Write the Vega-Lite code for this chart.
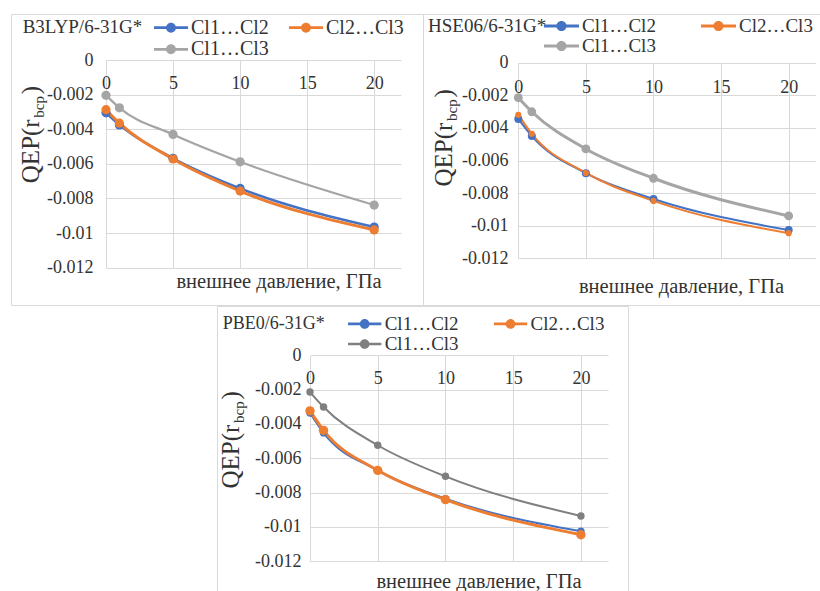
{
  "$schema": "https://vega.github.io/schema/vega-lite/v6.json",
  "padding": {"left": 10, "top": 13, "right": 0, "bottom": 0},
  "background": "white",
  "data": {
    "values": [
      {"m": "B3LYP", "s": "Cl1…Cl2", "p": 0, "q": -0.00305},
      {"m": "B3LYP", "s": "Cl1…Cl2", "p": 1, "q": -0.00375},
      {"m": "B3LYP", "s": "Cl1…Cl2", "p": 5, "q": -0.00568},
      {"m": "B3LYP", "s": "Cl1…Cl2", "p": 10, "q": -0.00742},
      {"m": "B3LYP", "s": "Cl1…Cl2", "p": 20, "q": -0.00965},
      {"m": "B3LYP", "s": "Cl2…Cl3", "p": 0, "q": -0.00287},
      {"m": "B3LYP", "s": "Cl2…Cl3", "p": 1, "q": -0.00365},
      {"m": "B3LYP", "s": "Cl2…Cl3", "p": 5, "q": -0.00572},
      {"m": "B3LYP", "s": "Cl2…Cl3", "p": 10, "q": -0.00757},
      {"m": "B3LYP", "s": "Cl2…Cl3", "p": 20, "q": -0.00982},
      {"m": "B3LYP", "s": "Cl1…Cl3", "p": 0, "q": -0.00204},
      {"m": "B3LYP", "s": "Cl1…Cl3", "p": 1, "q": -0.00276},
      {"m": "B3LYP", "s": "Cl1…Cl3", "p": 5, "q": -0.00430},
      {"m": "B3LYP", "s": "Cl1…Cl3", "p": 10, "q": -0.00588},
      {"m": "B3LYP", "s": "Cl1…Cl3", "p": 20, "q": -0.00838},
      {"m": "HSE06", "s": "Cl1…Cl2", "p": 0, "q": -0.00345},
      {"m": "HSE06", "s": "Cl1…Cl2", "p": 1, "q": -0.00450},
      {"m": "HSE06", "s": "Cl1…Cl2", "p": 5, "q": -0.00678},
      {"m": "HSE06", "s": "Cl1…Cl2", "p": 10, "q": -0.00836},
      {"m": "HSE06", "s": "Cl1…Cl2", "p": 20, "q": -0.01027},
      {"m": "HSE06", "s": "Cl2…Cl3", "p": 0, "q": -0.00320},
      {"m": "HSE06", "s": "Cl2…Cl3", "p": 1, "q": -0.00436},
      {"m": "HSE06", "s": "Cl2…Cl3", "p": 5, "q": -0.00676},
      {"m": "HSE06", "s": "Cl2…Cl3", "p": 10, "q": -0.00848},
      {"m": "HSE06", "s": "Cl2…Cl3", "p": 20, "q": -0.01046},
      {"m": "HSE06", "s": "Cl1…Cl3", "p": 0, "q": -0.00215},
      {"m": "HSE06", "s": "Cl1…Cl3", "p": 1, "q": -0.00301},
      {"m": "HSE06", "s": "Cl1…Cl3", "p": 5, "q": -0.00529},
      {"m": "HSE06", "s": "Cl1…Cl3", "p": 10, "q": -0.00709},
      {"m": "HSE06", "s": "Cl1…Cl3", "p": 20, "q": -0.00940},
      {"m": "PBE0", "s": "Cl1…Cl2", "p": 0, "q": -0.00336},
      {"m": "PBE0", "s": "Cl1…Cl2", "p": 1, "q": -0.00452},
      {"m": "PBE0", "s": "Cl1…Cl2", "p": 5, "q": -0.00670},
      {"m": "PBE0", "s": "Cl1…Cl2", "p": 10, "q": -0.00835},
      {"m": "PBE0", "s": "Cl1…Cl2", "p": 20, "q": -0.01025},
      {"m": "PBE0", "s": "Cl2…Cl3", "p": 0, "q": -0.00324},
      {"m": "PBE0", "s": "Cl2…Cl3", "p": 1, "q": -0.00437},
      {"m": "PBE0", "s": "Cl2…Cl3", "p": 5, "q": -0.00670},
      {"m": "PBE0", "s": "Cl2…Cl3", "p": 10, "q": -0.00841},
      {"m": "PBE0", "s": "Cl2…Cl3", "p": 20, "q": -0.01045},
      {"m": "PBE0", "s": "Cl1…Cl3", "p": 0, "q": -0.00214},
      {"m": "PBE0", "s": "Cl1…Cl3", "p": 1, "q": -0.00301},
      {"m": "PBE0", "s": "Cl1…Cl3", "p": 5, "q": -0.00524},
      {"m": "PBE0", "s": "Cl1…Cl3", "p": 10, "q": -0.00705},
      {"m": "PBE0", "s": "Cl1…Cl3", "p": 20, "q": -0.00936}
    ]
  },
  "spacing": -2,
  "resolve": {"scale": {"color": "independent"}, "legend": {"color": "independent"}},
  "vconcat": [
    {
      "spacing": 0,
      "bounds": "flush",
      "resolve": {"scale": {"color": "independent"}, "legend": {"color": "independent"}},
      "hconcat": [
        {
          "width": 412,
          "height": 291,
          "transform": [{"filter": "datum.m == 'B3LYP'"}],
          "title": {"text": "B3LYP/6-31G*", "dx": 11.7, "offset": -23.2, "fontSize": 19},
          "encoding": {
            "x": {
              "field": "p", "type": "quantitative",
              "scale": {"domain": [0, 22], "range": [95, 390], "nice": false, "zero": false},
              "axis": {"orient": "top", "offset": -46, "values": [0, 5, 10, 15, 20], "labelPadding": -14.7, "labelBaseline": "top",
                       "title": "внешнее давление, ГПа", "titleX": 267.5, "titleY": 227, "titleFontSize": 20.5}
            }
          },
          "layer": [
            {
              "mark": {"type": "line", "interpolate": "monotone"},
              "encoding": {
                "y": {
                  "field": "q", "type": "quantitative",
                  "scale": {"domain": [-0.012, 0], "range": [253.7, 46], "nice": false, "zero": false},
                  "axis": {"orient": "left", "offset": -95, "labelPadding": 13,
                           "values": [-0.012, -0.01, -0.008, -0.006, -0.004, -0.002, 0],
                           "labelExpr": "datum.value == 0 ? '0' : '-' + format(-datum.value, '')",
                           "title": "QEP(r\u00a0\u00a0\u00a0\u00a0)", "titleAngle": -90, "titleX": -67.7, "titleY": 168.7, "titleAlign": "left", "titleFontSize": 25}
                },
                "detail": {"field": "s", "type": "nominal"},
                "stroke": {"condition": [{"test": "datum.s == 'Cl1…Cl2'", "value": "#4472c4"}, {"test": "datum.s == 'Cl2…Cl3'", "value": "#ed7d31"}], "value": "#a5a5a5"},
                "strokeWidth": {"condition": [{"test": "datum.s == 'Cl1…Cl2'", "value": 2.5}, {"test": "datum.s == 'Cl2…Cl3'", "value": 3}], "value": 2.25}
              }
            },
            {
              "mark": {"type": "point", "filled": true, "opacity": 1, "size": 85},
              "encoding": {
                "y": {
                  "field": "q", "type": "quantitative",
                  "scale": {"domain": [-0.012, 0], "range": [253.7, 46], "nice": false, "zero": false},
                  "axis": {"orient": "right", "labels": false, "grid": false, "title": "bcp", "titleAngle": -90,
                           "titleX": -380, "titleY": 103.2, "titleAlign": "left", "titleFontSize": 15}
                },
                "color": {"field": "s", "type": "nominal",
                          "scale": {"domain": ["Cl1…Cl2", "Cl2…Cl3", "Cl1…Cl3"], "range": ["#4472c4", "#ed7d31", "#a5a5a5"]},
                          "legend": {"title": null, "legendX": 143, "legendY": 3.7, "columnPadding": 20, "rowPadding": 1.6, "clipHeight": 20,
                                     "labelFont": "Liberation Serif", "labelFontSize": 20, "symbolSize": 1156,
                                     "encode": {"labels": {"update": {"font": {"value": "Liberation Serif"}}}}}}
              }
            }
          ],
          "resolve": {"axis": {"y": "independent"}}
        },
        {
          "width": 397,
          "height": 291,
          "transform": [{"filter": "datum.m == 'HSE06'"}],
          "title": {"text": "HSE06/6-31G*", "dx": 5, "offset": -21.5, "fontSize": 19},
          "encoding": {
            "x": {
              "field": "p", "type": "quantitative",
              "scale": {"domain": [0, 22], "range": [95.3, 392.7], "nice": false, "zero": false},
              "axis": {"orient": "top", "offset": -48.7, "values": [0, 5, 10, 15, 20], "labelPadding": -15.3, "labelBaseline": "top",
                       "title": "внешнее давление, ГПа", "titleX": 258, "titleY": 229.8, "titleFontSize": 20.5}
            }
          },
          "layer": [
            {
              "mark": {"type": "line", "interpolate": "monotone"},
              "encoding": {
                "y": {
                  "field": "q", "type": "quantitative",
                  "scale": {"domain": [-0.012, 0], "range": [244.3, 48.7], "nice": false, "zero": false},
                  "axis": {"orient": "left", "offset": -95.3, "labelPadding": 10.3,
                           "values": [-0.012, -0.01, -0.008, -0.006, -0.004, -0.002, 0],
                           "labelExpr": "datum.value == 0 ? '0' : '-' + format(-datum.value, '')",
                           "title": "QEP(r\u00a0\u00a0\u00a0\u00a0)", "titleAngle": -90, "titleX": -67.3, "titleY": 172, "titleAlign": "left", "titleFontSize": 25}
                },
                "detail": {"field": "s", "type": "nominal"},
                "stroke": {"condition": [{"test": "datum.s == 'Cl1…Cl2'", "value": "#4472c4"}, {"test": "datum.s == 'Cl2…Cl3'", "value": "#ed7d31"}], "value": "#a5a5a5"},
                "strokeWidth": {"condition": [{"test": "datum.s == 'Cl1…Cl3'", "value": 3}], "value": 2}
              }
            },
            {
              "mark": {"type": "point", "filled": true, "opacity": 1},
              "encoding": {
                "y": {
                  "field": "q", "type": "quantitative",
                  "scale": {"domain": [-0.012, 0], "range": [244.3, 48.7], "nice": false, "zero": false},
                  "axis": {"orient": "right", "labels": false, "grid": false, "title": "bcp", "titleAngle": -90,
                           "titleX": -364, "titleY": 106.5, "titleAlign": "left", "titleFontSize": 15}
                },
                "color": {"field": "s", "type": "nominal",
                          "scale": {"domain": ["Cl1…Cl2", "Cl2…Cl3", "Cl1…Cl3"], "range": ["#4472c4", "#ed7d31", "#a5a5a5"]},
                          "legend": {"title": null, "legendX": 121, "legendY": 2, "columnPadding": 45, "rowPadding": 0, "clipHeight": 20,
                                     "labelFont": "Liberation Serif", "labelFontSize": 19, "symbolSize": 1225,
                                     "encode": {"labels": {"update": {"font": {"value": "Liberation Serif"}}}}}},
                "size": {"condition": [{"test": "datum.s == 'Cl1…Cl2'", "value": 64}, {"test": "datum.s == 'Cl2…Cl3'", "value": 38}], "value": 78}
              }
            }
          ],
          "resolve": {"axis": {"y": "independent"}}
        }
      ]
    },
    {
      "spacing": 0,
      "bounds": "flush",
      "resolve": {"scale": {"color": "independent"}, "legend": {"color": "independent"}},
      "hconcat": [
        {
          "width": 206,
          "height": 285,
          "data": {"values": []},
          "mark": "point",
          "encoding": {},
          "view": {"stroke": null}
        },
        {
          "width": 411,
          "height": 285,
          "transform": [{"filter": "datum.m == 'PBE0'"}],
          "title": {"text": "PBE0/6-31G*", "dx": 5.7, "offset": -26.7, "fontSize": 18},
          "encoding": {
            "x": {
              "field": "p", "type": "quantitative",
              "scale": {"domain": [0, 22], "range": [93, 391], "nice": false, "zero": false},
              "axis": {"orient": "top", "offset": -49.3, "values": [0, 5, 10, 15, 20], "labelPadding": -13.7, "labelBaseline": "top",
                       "title": "внешнее давление, ГПа", "titleX": 261.5, "titleY": 231.7, "titleFontSize": 20.5}
            }
          },
          "layer": [
            {
              "mark": {"type": "line", "interpolate": "monotone"},
              "encoding": {
                "y": {
                  "field": "q", "type": "quantitative",
                  "scale": {"domain": [-0.012, 0], "range": [255.3, 49.3], "nice": false, "zero": false},
                  "axis": {"orient": "left", "offset": -93, "labelPadding": 9,
                           "values": [-0.012, -0.01, -0.008, -0.006, -0.004, -0.002, 0],
                           "labelExpr": "datum.value == 0 ? '0' : '-' + format(-datum.value, '')",
                           "title": "QEP(r\u00a0\u00a0\u00a0\u00a0)", "titleAngle": -90, "titleX": -72, "titleY": 182, "titleAlign": "left", "titleFontSize": 25}
                },
                "detail": {"field": "s", "type": "nominal"},
                "stroke": {"condition": [{"test": "datum.s == 'Cl1…Cl2'", "value": "#4472c4"}, {"test": "datum.s == 'Cl2…Cl3'", "value": "#ed7d31"}], "value": "#7f7f7f"},
                "strokeWidth": {"condition": [{"test": "datum.s == 'Cl2…Cl3'", "value": 3}], "value": 2}
              }
            },
            {
              "mark": {"type": "point", "filled": true, "opacity": 1},
              "encoding": {
                "y": {
                  "field": "q", "type": "quantitative",
                  "scale": {"domain": [-0.012, 0], "range": [255.3, 49.3], "nice": false, "zero": false},
                  "axis": {"orient": "right", "labels": false, "grid": false, "title": "bcp", "titleAngle": -90,
                           "titleX": -385, "titleY": 116.5, "titleAlign": "left", "titleFontSize": 15}
                },
                "color": {"field": "s", "type": "nominal",
                          "scale": {"domain": ["Cl1…Cl2", "Cl2…Cl3", "Cl1…Cl3"], "range": ["#4472c4", "#ed7d31", "#7f7f7f"]},
                          "legend": {"title": null, "legendX": 130.7, "legendY": 8.2, "columnPadding": 34.8, "rowPadding": 0.3, "clipHeight": 19,
                                     "labelFont": "Liberation Serif", "labelFontSize": 19, "symbolSize": 1111,
                                     "encode": {"labels": {"update": {"font": {"value": "Liberation Serif"}}}}}},
                "size": {"condition": [{"test": "datum.s == 'Cl2…Cl3'", "value": 88}], "value": 55}
              }
            }
          ],
          "resolve": {"axis": {"y": "independent"}}
        }
      ]
    }
  ],
  "config": {
    "font": "Liberation Serif",
    "view": {"stroke": "#d9d9d9", "strokeWidth": 1},
    "title": {"anchor": "start", "frame": "group", "orient": "top", "baseline": "middle",
              "font": "Liberation Serif", "fontWeight": "normal", "color": "#333333"},
    "axis": {
      "labelFont": "Liberation Serif", "labelFontSize": 18, "labelColor": "#333333",
      "labelFlush": false, "labelOverlap": false,
      "titleFont": "Liberation Serif", "titleFontWeight": "normal", "titleColor": "#333333",
      "titleBaseline": "alphabetic", "titlePadding": 0,
      "ticks": false, "tickSize": 0, "domain": false,
      "grid": true, "gridColor": "#d9d9d9", "gridWidth": 1,
      "minExtent": 0, "maxExtent": 0
    },
    "legend": {
      "orient": "none", "direction": "horizontal", "columns": 2, "padding": 0,
      "labelFont": "Liberation Serif", "labelColor": "#333333", "labelOffset": 3, "labelLimit": 0,
      "symbolType": "M-1,-0.08L1,-0.08L1,0.08L-1,0.08ZM-0.29,0A0.29,0.29,0,1,1,0.29,0A0.29,0.29,0,1,1,-0.29,0Z",
      "symbolStrokeWidth": 0, "symbolOffset": 0, "symbolOpacity": 1
    }
  }
}
